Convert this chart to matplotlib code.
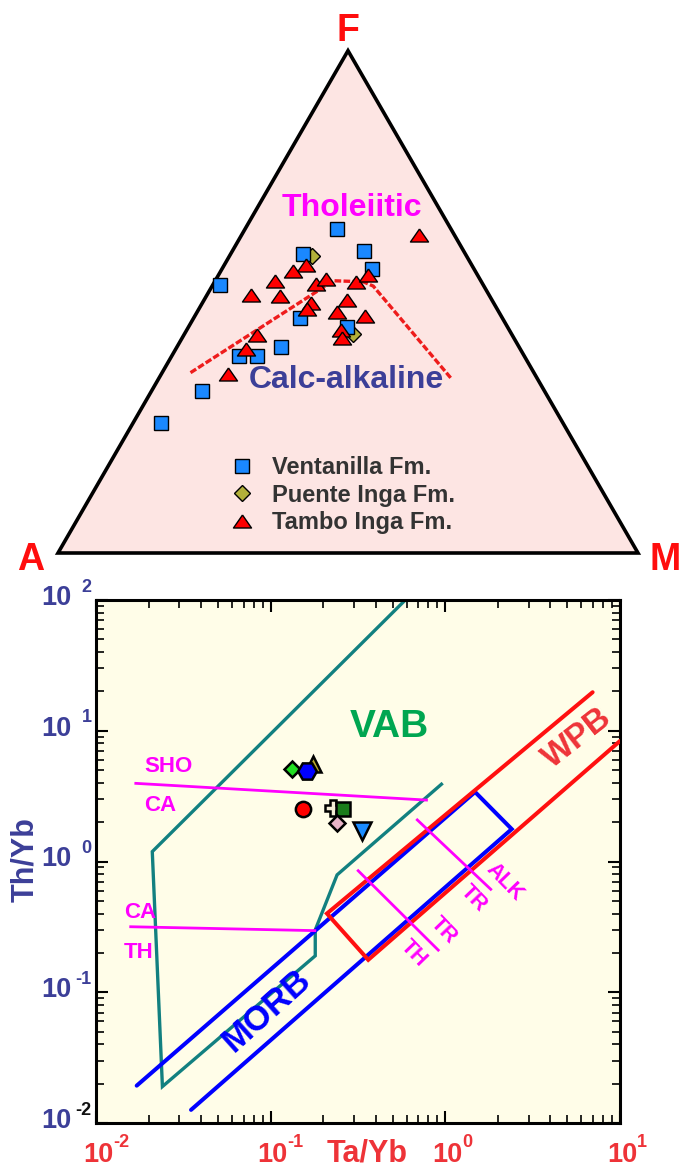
import numpy as np
import matplotlib
matplotlib.use('Agg')
import matplotlib.pyplot as plt
from matplotlib.transforms import blended_transform_factory

plt.rcParams['font.family'] = ['Liberation Sans', 'DejaVu Sans']
plt.rcParams['font.weight'] = 'bold'

# ---------------- AFM ternary data (A, F, M in %) ----------------
vent_A = [19.6, 27.9, 17.2, 17.6, 45.4, 34.9, 27.8, 41.1, 49.2, 46.0, 59.1, 69.3]
vent_F = [64.4, 59.5, 60.1, 56.5, 53.4, 46.8, 44.9, 41.0, 39.2, 39.3, 32.2, 25.8]
vent_M = [15.9, 12.5, 22.7, 26.0, 1.2, 18.3, 27.3, 17.9, 11.6, 14.7, 8.7, 4.9]

puente_A = [26.7, 27.4]
puente_F = [59.1, 43.6]
puente_M = [14.2, 29.0]

tambo_A = [6.1, 28.6, 31.4, 35.5, 28.8, 26.5, 21.6, 18.9, 41.1, 36.1, 31.6, 32.9,
           25.0, 27.9, 23.5, 29.0, 29.6, 44.0, 47.3, 52.9]
tambo_F = [63.3, 57.3, 56.1, 54.2, 53.6, 54.5, 54.0, 55.3, 51.4, 51.2, 49.7, 48.5,
           50.4, 48.0, 47.2, 44.4, 42.8, 43.4, 40.6, 35.6]
tambo_M = [30.6, 14.1, 12.5, 10.3, 17.6, 19.0, 24.4, 25.8, 7.5, 12.7, 18.7, 18.6,
           24.6, 24.1, 29.3, 26.6, 27.6, 12.6, 12.1, 11.6]

# Tholeiitic / calc-alkaline boundary
bound_A = [59.2, 25.4, 20.4, 19.1, 14.8]
bound_F = [35.9, 54.2, 54.0, 53.2, 34.6]
bound_M = [4.9, 20.4, 25.6, 27.8, 50.6]

# ---------------- Th/Yb vs Ta/Yb data ----------------
vab_x = [0.59, 0.021, 0.024, 0.18, 0.18, 0.24, 0.95]
vab_y = [100.0, 1.19, 0.019, 0.19, 0.30, 0.79, 3.9]
morb_x = [0.0171, 1.48, 2.40, 0.035]
morb_y = [0.0193, 3.40, 1.77, 0.0126]
wpb_x = [6.97, 0.210, 0.362, 10.0]
wpb_y = [19.7, 0.400, 0.177, 8.35]
shoca_x = [0.0169, 0.78]
shoca_y = [3.96, 2.95]
cath_x = [0.0158, 0.179]
cath_y = [0.317, 0.296]
tr1_x = [0.317, 0.911]
tr1_y = [0.850, 0.210]
tr2_x = [0.691, 1.82]
tr2_y = [2.08, 0.613]

samp_x = [0.174, 0.132, 0.161, 0.153, 0.227, 0.259, 0.240, 0.333]
samp_y = [5.57, 5.10, 4.92, 2.52, 2.56, 2.52, 1.97, 1.71]
samp_marker = ['^', 'D', 'H', 'o', 'P', 's', 'D', 'v']
samp_color = ['#b8a830', '#22dd22', '#0000ff', '#ff0000', '#f3eed6', '#1a7d1a', '#e8b4c8', '#1a8cff']
samp_size = [12, 8.5, 13.5, 11, 12, 10, 8.5, 13]

xtick_vals = [1e-2, 1e-1, 1e0, 1e1]
xtick_exp = ['-2', '-1', '0', '1']
ytick_vals = [1e2, 1e1, 1e0, 1e-1, 1e-2]
ytick_exp = ['2', '1', '0', '-1', '-2']
ytick_expcol = ['#3c3f98', '#3c3f98', '#3c3f98', '#3c3f98', '#111111']

RED_TXT = '#ee3338'
BLUE_TXT = '#3c3f98'

W, H = 690, 1169
fig = plt.figure(figsize=(W / 100, H / 100), dpi=100)

# ================= Ternary =================
ax1 = fig.add_axes([0, (H - 580) / H, 1, 580 / H])
ax1.set_xlim(-58 / 580, 632 / 580)
ax1.set_ylim((553 - 580) / 580, 553 / 580)
ax1.axis('off')
S3 = np.sqrt(3) / 2


def tern(A, F, M):
    A = np.asarray(A, float); F = np.asarray(F, float); M = np.asarray(M, float)
    s = A + F + M
    f = F / s
    m = M / s
    return m + f / 2, f * S3


ax1.fill([0, 1, 0.5], [0, 0, S3], facecolor='#fde5e3', edgecolor='black',
         lw=2.6, joinstyle='miter', zorder=1)

bx, by = tern(bound_A, bound_F, bound_M)
ax1.plot(bx, by, color='#ee1c1c', lw=2.4, ls=(0, (2.0, 0.7)), zorder=2)

tri_marker = [(0, 0.72), (-1, -0.72), (1, -0.72), (0, 0.72)]

px, py = tern(puente_A, puente_F, puente_M)
ax1.plot(px, py, ls='none', marker='D', ms=7.8, mfc='#b3b03a', mec='black', mew=1.0,
         zorder=3, label='Puente Inga Fm.')
vx, vy = tern(vent_A, vent_F, vent_M)
ax1.plot(vx, vy, ls='none', marker='s', ms=10.3, mfc='#1a88ff', mec='black', mew=1.0,
         zorder=4, label='Ventanilla Fm.')
tx, ty = tern(tambo_A, tambo_F, tambo_M)
ax1.plot(tx, ty, ls='none', marker=tri_marker, ms=13, mfc='#ff0000', mec='black', mew=1.0,
         zorder=5, label='Tambo Inga Fm.')

# vertex labels
vfont = dict(color='#ff0d0d', fontsize=27, fontweight='bold', ha='center', va='center')
ax1.annotate('F', xy=(0.5, S3), xytext=(0, 14), textcoords='offset points', **vfont)
ax1.annotate('A', xy=(0, 0), xytext=(-19.5, -5), textcoords='offset points', **vfont)
ax1.annotate('M', xy=(1, 0), xytext=(19.5, -5), textcoords='offset points', **vfont)

ax1.text((352 - 58) / 580, (553 - 216) / 580, 'Tholeiitic', color='#ff00ff', fontsize=23,
         fontweight='bold', ha='center', va='baseline')
ax1.text((346.5 - 58) / 580, (553 - 388) / 580, 'Calc-alkaline', color=BLUE_TXT, fontsize=23,
         fontweight='bold', ha='center', va='baseline')

h, l = ax1.get_legend_handles_labels()
order = [1, 0, 2]
leg = ax1.legend([h[i] for i in order], [l[i] for i in order], loc='upper left',
                 bbox_to_anchor=(230.5 / 690, 1 - 456 / 580), frameon=False,
                 prop={'size': 17, 'weight': 'bold'}, handlelength=1.0,
                 handletextpad=0.75, labelspacing=0.2, borderpad=0, borderaxespad=0)
for t in leg.get_texts():
    t.set_color('#333333')

# ================= Th/Yb vs Ta/Yb =================
ax2 = fig.add_axes([96 / W, (H - 1123) / H, 524 / W, 523 / H])
ax2.set_facecolor('#fffde8')
ax2.set_xscale('log')
ax2.set_yscale('log')
ax2.set_xlim(1e-2, 1e1)
ax2.set_ylim(1e-2, 1e2)
for sp in ax2.spines.values():
    sp.set_linewidth(2.2)
ax2.tick_params(which='both', direction='in', top=True, right=True,
                labelbottom=False, labelleft=False, color='black')
ax2.tick_params(which='major', length=8.5, width=1.5)
ax2.tick_params(which='minor', length=5.5, width=1.2)

ax2.plot(vab_x, vab_y, color='#128080', lw=2.4, zorder=2, solid_joinstyle='miter')
ax2.plot(morb_x, morb_y, color='#0000ff', lw=2.9, zorder=3, solid_joinstyle='miter',
         solid_capstyle='round')
ax2.plot(wpb_x, wpb_y, color='#ff1010', lw=2.9, zorder=3, solid_joinstyle='miter',
         solid_capstyle='round')
for xs, ys in [(shoca_x, shoca_y), (cath_x, cath_y), (tr1_x, tr1_y), (tr2_x, tr2_y)]:
    ax2.plot(xs, ys, color='#ff00ff', lw=2.0, zorder=4)

for x, y, mk, c, s in zip(samp_x, samp_y, samp_marker, samp_color, samp_size):
    ax2.plot([x], [y], ls='none', marker=mk, ms=s, mfc=c, mec='black', mew=1.8, zorder=6)

# field labels
ax2.text(0.4755, 8.96, 'VAB', color='#00a651', fontsize=28, fontweight='bold',
         ha='center', va='baseline')
ax2.text(5.74, 8.80, 'WPB', color=RED_TXT, fontsize=24, fontweight='bold',
         ha='center', va='center', rotation=38, rotation_mode='anchor')
ax2.text(0.0948, 0.0731, 'MORB', color='#0000ff', fontsize=25, fontweight='bold',
         ha='center', va='center', rotation=42, rotation_mode='anchor')
mg = dict(color='#ff00ff', fontsize=16, fontweight='bold', ha='center', va='baseline')
ax2.text(0.02583, 4.836, 'SHO', **mg)
ax2.text(0.02324, 2.434, 'CA', **mg)
ax2.text(0.01786, 0.3697, 'CA', **mg)
ax2.text(0.01762, 0.1828, 'TH', **mg)
mr = dict(color='#ff00ff', fontsize=15.5, fontweight='bold', ha='center', va='center',
          rotation=-46, rotation_mode='anchor')
ax2.text(2.194, 0.7008, 'ALK', **mr)
ax2.text(1.444, 0.5231, 'TR', **mr)
ax2.text(0.9727, 0.2993, 'TR', **mr)
ax2.text(0.655, 0.1986, 'TH', **mr)

# tick labels (10 with superscript)
tx_tr = blended_transform_factory(ax2.transData, ax2.transAxes)
for v, e in zip(xtick_vals, xtick_exp):
    ax2.annotate('10', xy=(v, 0), xycoords=tx_tr, xytext=(1.5, -28.0),
                 textcoords='offset points', ha='center', va='baseline', fontsize=19.5,
                 fontweight='bold', color=RED_TXT, annotation_clip=False)
    ax2.annotate(e, xy=(v, 0), xycoords=tx_tr, xytext=(12.3, -17.0),
                 textcoords='offset points', ha='left', va='baseline', fontsize=13,
                 fontweight='bold', color=RED_TXT, annotation_clip=False)
ty_tr = blended_transform_factory(ax2.transAxes, ax2.transData)
for v, e, ec in zip(ytick_vals, ytick_exp, ytick_expcol):
    ax2.annotate('10', xy=(0, v), xycoords=ty_tr, xytext=(-17.5, -3.6),
                 textcoords='offset points', ha='right', va='baseline', fontsize=19.5,
                 fontweight='bold', color=BLUE_TXT, annotation_clip=False)
    ax2.annotate(e, xy=(0, v), xycoords=ty_tr, xytext=(-3.2, 6),
                 textcoords='offset points', ha='right', va='baseline', fontsize=13,
                 fontweight='bold', color=ec, annotation_clip=False)

fig.text(367 / W, (H - 1161) / H, 'Ta/Yb', color=RED_TXT, fontsize=22, fontweight='bold',
         ha='center', va='baseline')
fig.text(25 / W, (H - 860) / H, 'Th/Yb', color=BLUE_TXT, fontsize=22, fontweight='bold',
         ha='center', va='center', rotation=90)

fig.savefig('out.png', dpi=100)
